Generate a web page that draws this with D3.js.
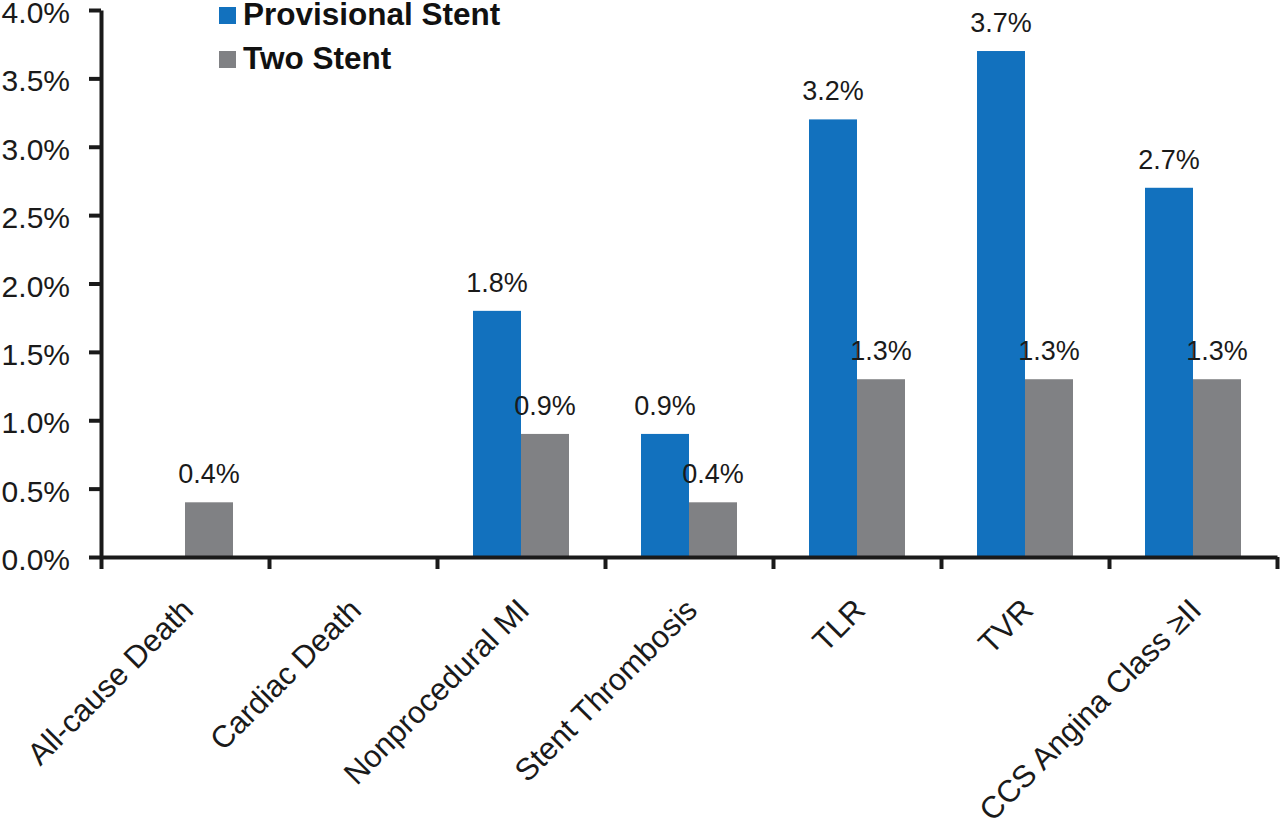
<!DOCTYPE html>
<html>
<head>
<meta charset="utf-8">
<script src="https://cdn.jsdelivr.net/npm/d3@7"></script>
<style>
  body { margin: 0; background: #fff; }
  svg { display: block; font-family: "Liberation Sans", Arial, sans-serif; }
</style>
</head>
<body>
<svg id="chart" width="1280" height="829"></svg>
<script>
// chart data
const categories = ["All-cause Death", "Cardiac Death", "Nonprocedural MI", "Stent Thrombosis", "TLR", "TVR", "CCS Angina Class \u2265II"];
const seriesNames = ["Provisional Stent", "Two Stent"];
const provisional = [0, 0, 1.8, 0.9, 3.2, 3.7, 2.7];
const twoStent = [0.4, 0, 0.9, 0.4, 1.3, 1.3, 1.3];
const yTicks = [0, 0.5, 1, 1.5, 2, 2.5, 3, 3.5, 4];

const colors = { "Provisional Stent": "#1271be", "Two Stent": "#808184" };
const ink = "#1a1a1a";

const svg = d3.select("#chart");
const plotLeft = 101, plotRight = 1277, plotTop = 10, plotBottom = 557;

const x = d3.scaleBand().domain(categories).range([plotLeft, plotRight]).padding(0);
const xSub = d3.scaleBand().domain(seriesNames).range([0, x.bandwidth()])
    .paddingInner(0).paddingOuter(0.75);
const y = d3.scaleLinear().domain([0, 4]).range([plotBottom, plotTop]);
const edges = d3.scaleLinear().domain([0, categories.length]).range([plotLeft, plotRight]);

const rows = categories.map((c, i) => ({
    cat: c,
    values: [
        { series: seriesNames[0], v: provisional[i] },
        { series: seriesNames[1], v: twoStent[i] }
    ]
}));

// bars
const groups = svg.append("g").selectAll("g")
    .data(rows)
    .enter().append("g")
    .attr("transform", d => `translate(${x(d.cat)},0)`);

groups.selectAll("rect")
    .data(d => d.values.filter(e => e.v > 0))
    .enter().append("rect")
    .attr("x", d => xSub(d.series))
    .attr("y", d => y(d.v))
    .attr("width", xSub.bandwidth())
    .attr("height", d => y(0) - y(d.v))
    .style("fill", d => colors[d.series]);

groups.selectAll("text")
    .data(d => d.values.filter(e => e.v > 0))
    .enter().append("text")
    .attr("x", d => xSub(d.series) + xSub.bandwidth() / 2)
    .attr("y", d => y(d.v) - 19)
    .attr("text-anchor", "middle")
    .style("font-size", "27px")
    .style("fill", ink)
    .text(d => d.v.toFixed(1) + "%");

// y axis
const yAxis = svg.append("g")
    .attr("transform", `translate(${plotLeft},0)`)
    .call(d3.axisLeft(y).tickValues(yTicks).tickSize(12).tickSizeOuter(0).tickPadding(19)
        .tickFormat(d => d.toFixed(1) + "%"));
yAxis.selectAll("text")
    .attr("dy", "0.42em")
    .style("font-size", "30px").style("fill", ink)
    .style("font-family", "'Liberation Sans', Arial, sans-serif");

// x axis (ticks at category edges)
const xAxis = svg.append("g")
    .attr("transform", `translate(0,${plotBottom})`)
    .call(d3.axisBottom(edges).tickValues(d3.range(categories.length + 1))
        .tickSize(12).tickSizeOuter(0).tickFormat(""));

svg.selectAll(".domain, .tick line")
    .style("stroke", ink)
    .style("stroke-width", 4);

// category labels
svg.append("g").selectAll("text")
    .data(categories)
    .enter().append("text")
    .attr("transform", d => `translate(${x(d) + x.bandwidth() / 2 + 10},612) rotate(-45)`)
    .attr("text-anchor", "end")
    .style("font-size", "31px")
    .style("fill", ink)
    .text(d => d);

// legend
const legend = svg.append("g").selectAll("g")
    .data(seriesNames)
    .enter().append("g")
    .attr("transform", (d, i) => `translate(219,${7 + i * 44})`);
legend.append("rect")
    .attr("width", 17).attr("height", 17)
    .style("fill", d => colors[d]);
legend.append("text")
    .attr("x", 24).attr("y", 18)
    .style("font-size", "31.5px")
    .style("font-weight", "bold")
    .style("fill", "#111")
    .text(d => d);
</script>
</body>
</html>
